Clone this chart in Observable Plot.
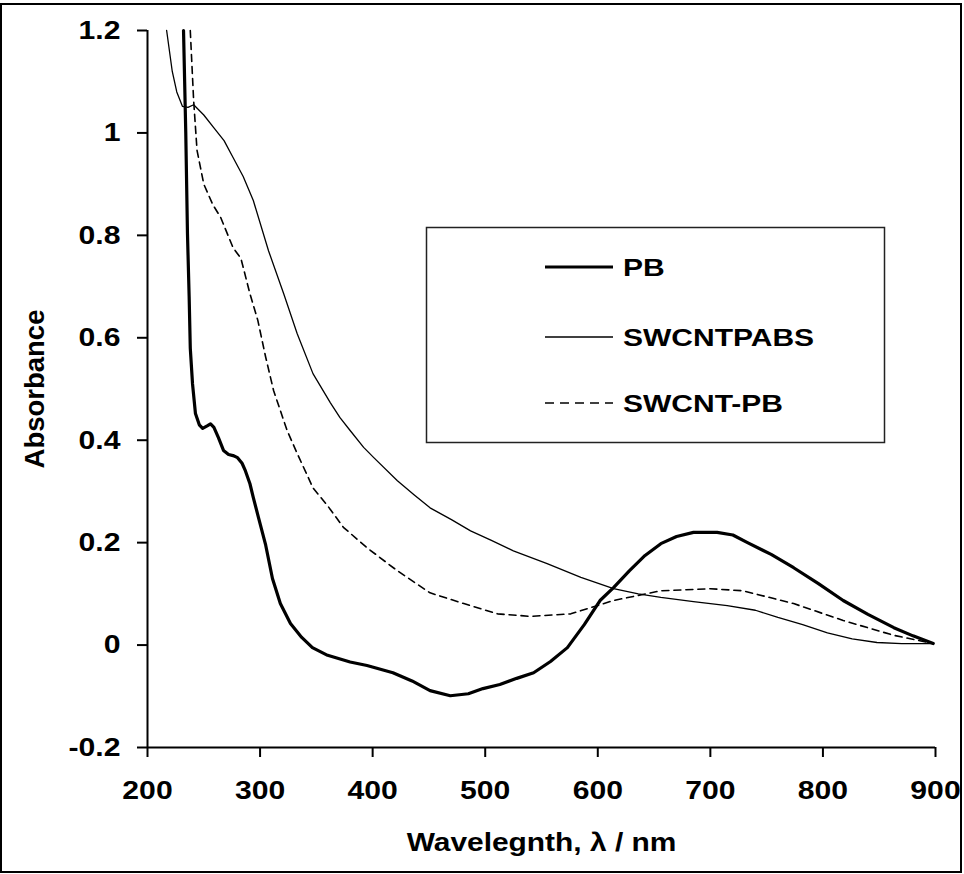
<!DOCTYPE html>
<html><head><meta charset="utf-8">
<script src="https://cdn.jsdelivr.net/npm/d3@7"></script>
<script src="https://cdn.jsdelivr.net/npm/@observablehq/plot@0.6"></script>
<style>
body{margin:0;background:#fff;}
#wrap{position:relative;width:964px;height:874px;font-family:"Liberation Sans",Arial,sans-serif;}
#border{position:absolute;left:0;top:3px;width:962px;height:870px;border:2px solid #000;box-sizing:border-box;pointer-events:none;}
#legend{position:absolute;left:0;top:0;pointer-events:none;}
</style></head><body><div id="wrap"><div id="border"></div></div>
<script>
// ---- data ----
const seriesNames = ["PB", "SWCNTPABS", "SWCNT-PB"];
const xTicks = [200, 300, 400, 500, 600, 700, 800, 900];
const yTicks = [-0.2, 0, 0.2, 0.4, 0.6, 0.8, 1, 1.2];
const xLabel = "Wavelegnth, \u03bb / nm";
const yLabel = "Absorbance";

const pbWl  = [232, 233, 234, 235.5, 237, 238, 240, 242.6, 246, 249, 253, 256, 259, 263, 267.5, 272, 276, 280, 284, 287, 291, 294, 298.6, 305, 311, 318, 327, 337, 346.5, 360, 380, 395, 418, 435, 451, 469, 485, 498, 513, 528, 543, 558, 573, 588, 602, 614, 628, 642, 656, 670, 685, 706, 720, 733, 754, 774, 796, 818, 840, 863, 880, 898];
const pbAbs = [1.2, 1.1, 1.0, 0.804, 0.68, 0.58, 0.51, 0.452, 0.43, 0.423, 0.428, 0.432, 0.425, 0.405, 0.38, 0.372, 0.37, 0.366, 0.355, 0.34, 0.315, 0.288, 0.249, 0.195, 0.13, 0.081, 0.042, 0.015, -0.005, -0.02, -0.033, -0.04, -0.054, -0.07, -0.089, -0.099, -0.095, -0.085, -0.077, -0.065, -0.054, -0.032, -0.005, 0.04, 0.087, 0.112, 0.145, 0.175, 0.198, 0.212, 0.22, 0.22, 0.215, 0.2, 0.177, 0.151, 0.12, 0.087, 0.06, 0.034, 0.018, 0.003];

const swWl  = [217, 222, 226, 231, 236, 241, 250, 259, 268, 276, 285, 294, 307.5, 321, 333, 347, 362.5, 371, 380, 392, 401, 422, 437, 451, 470, 487, 505, 525, 555, 585, 614, 636, 656, 685, 715, 740, 760, 782, 804, 826, 848, 870, 898];
const swAbs = [1.2, 1.12, 1.08, 1.052, 1.05, 1.055, 1.035, 1.01, 0.985, 0.952, 0.915, 0.868, 0.77, 0.686, 0.608, 0.53, 0.473, 0.444, 0.419, 0.386, 0.366, 0.321, 0.293, 0.268, 0.245, 0.223, 0.205, 0.184, 0.159, 0.132, 0.11, 0.1, 0.093, 0.085, 0.077, 0.068, 0.054, 0.04, 0.024, 0.012, 0.005, 0.003, 0.003];

const spWl  = [238, 241, 244, 250, 258, 265, 276, 283, 291, 298, 305, 312, 324, 333, 347, 360, 374, 395, 422, 451, 481, 511, 540, 576, 614, 656, 700, 729, 774, 818, 863, 898];
const spAbs = [1.2, 1.063, 0.966, 0.9, 0.86, 0.835, 0.776, 0.755, 0.686, 0.634, 0.562, 0.497, 0.419, 0.374, 0.307, 0.272, 0.23, 0.19, 0.145, 0.102, 0.081, 0.061, 0.056, 0.061, 0.087, 0.106, 0.11, 0.106, 0.081, 0.048, 0.019, 0.003];

function rows(wl, ab, name) { return wl.map((w, i) => ({wl: w, a: ab[i], s: name})); }
const pb = rows(pbWl, pbAbs, seriesNames[0]);
const sw = rows(swWl, swAbs, seriesNames[1]);
const sp = rows(spWl, spAbs, seriesNames[2]);

const FONT = "'Liberation Sans', Arial, Helvetica, sans-serif";

const chart = Plot.plot({
  width: 964, height: 874,
  marginLeft: 147, marginRight: 29, marginTop: 30, marginBottom: 127,
  style: {fontFamily: FONT, background: "transparent", color: "#000", overflow: "visible"},
  x: {domain: [200, 900]},
  y: {domain: [-0.2, 1.2]},
  marks: [
    Plot.axisX({ticks: xTicks, tickSize: 10, tickPadding: 23, fontSize: 26, fontWeight: "bold", strokeWidth: 2, label: null, tickFormat: d => String(d)}),
    Plot.axisY({ticks: yTicks, tickSize: 10, tickPadding: 17, fontSize: 26, fontWeight: "bold", strokeWidth: 2, label: null, tickFormat: d => String(d)}),
    Plot.ruleX([200], {y1: -0.2, y2: 1.2, stroke: "#000", strokeWidth: 2}),
    Plot.ruleY([-0.2], {x1: 200, x2: 900, stroke: "#000", strokeWidth: 2}),
    Plot.line(sw, {x: "wl", y: "a", stroke: "#000", strokeWidth: 1.3}),
    Plot.line(sp, {x: "wl", y: "a", stroke: "#000", strokeWidth: 1.6, strokeDasharray: "7,5"}),
    Plot.line(pb, {x: "wl", y: "a", stroke: "#000", strokeWidth: 3.2}),
    Plot.text([xLabel], {frameAnchor: "bottom", text: d => d, dy: 95, fontSize: 26, fontWeight: "bold", fill: "#000", lineAnchor: "middle", textAnchor: "middle", className: "stretch"}),
    Plot.text([yLabel], {frameAnchor: "left", text: d => d, rotate: -90, dx: -112, fontSize: 27.5, fontWeight: "bold", fill: "#000", lineAnchor: "middle", textAnchor: "middle"})
  ]
});
const wrap = document.getElementById("wrap");
wrap.insertBefore(chart, wrap.firstChild);

// widen horizontal texts (the reference is stretched horizontally)
function stretch(el, k) {
  const w = el.getComputedTextLength();
  if (w > 0) { el.setAttribute("textLength", (w * k).toFixed(1)); el.setAttribute("lengthAdjust", "spacingAndGlyphs"); }
}
chart.querySelectorAll("g[aria-label='x-axis tick label'] text, g[aria-label='y-axis tick label'] text").forEach(t => stretch(t, 1.16));
chart.querySelectorAll(".stretch text, text.stretch").forEach(t => stretch(t, 1.15));

// ---- legend ----
const lg = d3.select(wrap).append("svg").attr("id", "legend").attr("width", 964).attr("height", 874);
lg.append("rect").attr("x", 426.5).attr("y", 227.5).attr("width", 458).attr("height", 215)
  .attr("fill", "#fff").attr("stroke", "#222").attr("stroke-width", 1.5);
const legendStyles = [
  {w: 3.2, dash: null},
  {w: 1.3, dash: null},
  {w: 1.6, dash: "9,6"}
];
const rowsY = [267, 337, 403];
seriesNames.forEach((name, i) => {
  const l = lg.append("line").attr("x1", 545).attr("x2", 613).attr("y1", rowsY[i]).attr("y2", rowsY[i])
    .attr("stroke", "#000").attr("stroke-width", legendStyles[i].w);
  if (legendStyles[i].dash) l.attr("stroke-dasharray", legendStyles[i].dash);
  const t = lg.append("text").attr("x", 623).attr("y", rowsY[i] + 8.5).text(name)
    .attr("font-family", FONT).attr("font-size", 24).attr("font-weight", "bold").attr("fill", "#000");
  stretch(t.node(), 1.25);
});
</script></body></html>
